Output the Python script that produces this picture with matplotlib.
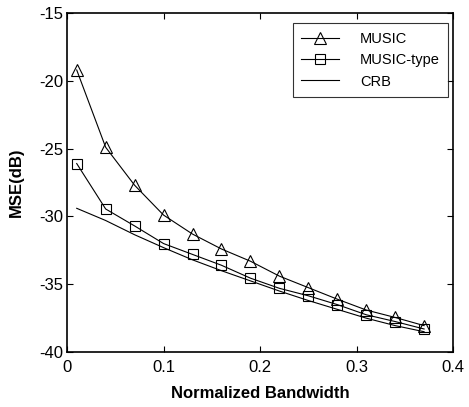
import matplotlib
matplotlib.use("Agg")
import matplotlib.pyplot as plt

plt.rcParams['font.family'] = ['Liberation Sans', 'DejaVu Sans']
plt.rcParams['axes.unicode_minus'] = False

# data
bandwidth = [0.01, 0.04, 0.07, 0.10, 0.13, 0.16, 0.19, 0.22, 0.25, 0.28, 0.31, 0.34, 0.37]
mse_music = [-19.2, -24.9, -27.7, -29.9, -31.3, -32.4, -33.3, -34.4, -35.25, -36.1, -36.9, -37.45, -38.05]
mse_music_type = [-26.1, -29.45, -30.7, -32.0, -32.8, -33.6, -34.55, -35.3, -35.85, -36.5, -37.25, -37.75, -38.3]
mse_crb = [-29.4, -30.3, -31.35, -32.3, -33.2, -34.0, -34.75, -35.5, -36.2, -36.85, -37.5, -38.05, -38.5]

xticks = [0, 0.1, 0.2, 0.3, 0.4]
xtick_labels = ["0", "0.1", "0.2", "0.3", "0.4"]
yticks = [-40, -35, -30, -25, -20, -15]

fig = plt.figure(figsize=(4.69, 4.07), dpi=100)
ax = fig.add_axes([0.143, 0.135, 0.823, 0.833])

ax.plot(bandwidth, mse_music, color='black', lw=0.8, marker='^', ms=8.5,
        mfc='none', mec='black', mew=0.8, label='MUSIC')
ax.plot(bandwidth, mse_music_type, color='black', lw=0.8, marker='s', ms=7.5,
        mfc='none', mec='black', mew=0.8, label='MUSIC-type')
ax.plot(bandwidth, mse_crb, color='black', lw=0.8, label='CRB')

ax.set_xlim(0, 0.4)
ax.set_ylim(-40, -15)
ax.set_xticks(xticks)
ax.set_xticklabels(xtick_labels)
ax.set_yticks(yticks)
ax.tick_params(direction='in', top=True, right=True, labelsize=12, length=4, width=0.8)
ax.tick_params(axis='x', pad=6)
ax.tick_params(axis='y', pad=3)
for s in ax.spines.values():
    s.set_linewidth(1.2)

ax.set_xlabel("Normalized Bandwidth", fontsize=12, fontweight='bold', labelpad=8)
ax.set_ylabel("MSE(dB)", fontsize=12, fontweight='bold', labelpad=11)

leg = ax.legend(loc='upper right', bbox_to_anchor=(0.988, 0.97), fontsize=10.5,
                frameon=True, fancybox=False, handlelength=2.6, borderpad=0.6,
                labelspacing=0.5, handletextpad=1.4, borderaxespad=0.0)
leg.get_frame().set_edgecolor('black')
leg.get_frame().set_linewidth(0.8)

fig.savefig("out.png", dpi=100)
